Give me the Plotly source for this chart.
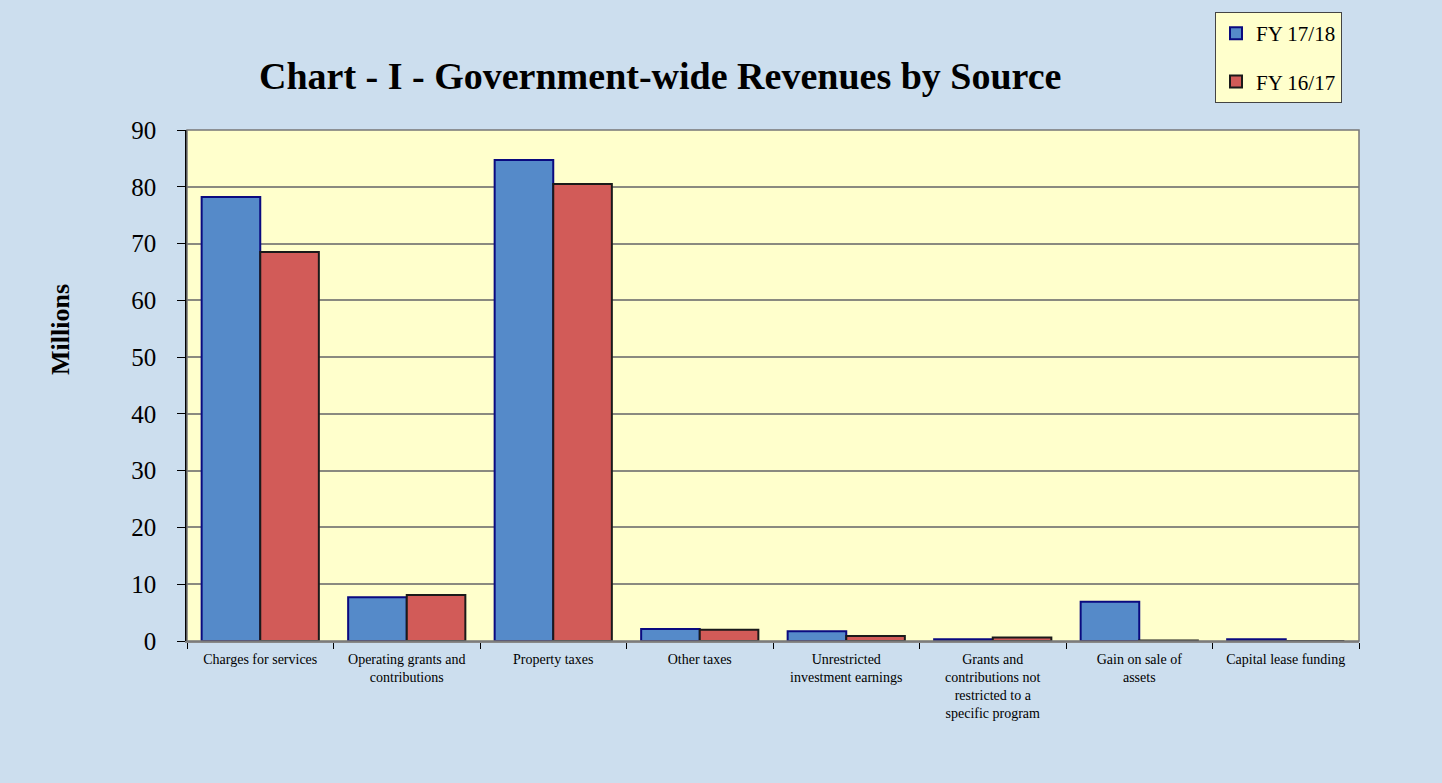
import plotly.graph_objects as go

categories = ["Charges for services", "Operating grants and<br>contributions", "Property taxes",
              "Other taxes", "Unrestricted<br>investment earnings",
              "Grants and<br>contributions not<br>restricted to a<br>specific program",
              "Gain on sale of<br>assets", "Capital lease funding"]
fy1718 = [78.2, 7.7, 84.7, 2.1, 1.7, 0.3, 6.9, 0.3]
fy1617 = [68.5, 8.1, 80.5, 2.0, 0.9, 0.6, 0.1, 0.0]
yticks = [0, 10, 20, 30, 40, 50, 60, 70, 80, 90]

xpos = list(range(len(categories)))
font = "Liberation Serif, Times New Roman, serif"

fig = go.Figure()
fig.add_trace(go.Bar(x=xpos, y=fy1718, name="FY 17/18", legendgroup="a",
                     marker=dict(color="#558AC9", line=dict(color="#0A0A80", width=2))))
fig.add_trace(go.Bar(x=xpos, y=fy1617, name="FY 16/17", legendgroup="b",
                     marker=dict(color="#D25B58", line=dict(color="#1A1A1A", width=2))))

fig.update_layout(
    width=1442, height=783,
    paper_bgcolor="#CCDEEE", plot_bgcolor="#FFFFCC",
    margin=dict(l=187, r=83, t=130, b=142),
    barmode="group", bargap=0.2, bargroupgap=0,
    font=dict(family=font, color="black"),
    showlegend=True,
    legend=dict(x=(1215 - 187) / 1172, y=(641 - 12) / 511, xanchor="left", yanchor="top",
                bgcolor="#FFFFCC", bordercolor="#444444", borderwidth=1,
                font=dict(size=21, family=font), tracegroupgap=18,
                itemwidth=30, entrywidth=100, entrywidthmode="pixels"),
    annotations=[
        dict(text="<b>Chart - I - Government-wide Revenues by Source</b>", xref="paper", yref="paper",
             x=(660 - 187) / 1172, y=(641 - 76) / 511, xanchor="center", yanchor="middle",
             showarrow=False, font=dict(size=38, family=font)),
        dict(text="<b>Millions</b>", xref="paper", yref="paper",
             x=(60 - 187) / 1172, y=(641 - 330) / 511, xanchor="center", yanchor="middle",
             textangle=-90, showarrow=False, font=dict(size=26, family=font)),
    ],
)
fig.update_xaxes(
    range=[-0.5, len(categories) - 0.5], tickvals=xpos, ticktext=categories,
    ticks="", tickfont=dict(size=14, family=font), showgrid=False, ticklabelstandoff=4,
    showline=True, linecolor="#888888", linewidth=2, mirror=False,
    minor=dict(tickvals=[i - 0.5 for i in range(len(categories) + 1)], ticks="outside",
               ticklen=6, tickcolor="black", showgrid=False),
)
fig.update_yaxes(
    range=[0, 90], tickvals=yticks, ticks="outside", ticklen=8, tickcolor="black",
    tickfont=dict(size=25, family=font), showgrid=True, gridcolor="#8A8A80", gridwidth=1.5,
    showline=True, linecolor="black", linewidth=1.5, zeroline=False, ticklabelstandoff=16,
)
fig.add_shape(type="rect", xref="paper", yref="paper", x0=0, x1=1, y0=0, y1=1,
              line=dict(color="#777777", width=1.5), layer="above")
fig.write_html("out.html")
